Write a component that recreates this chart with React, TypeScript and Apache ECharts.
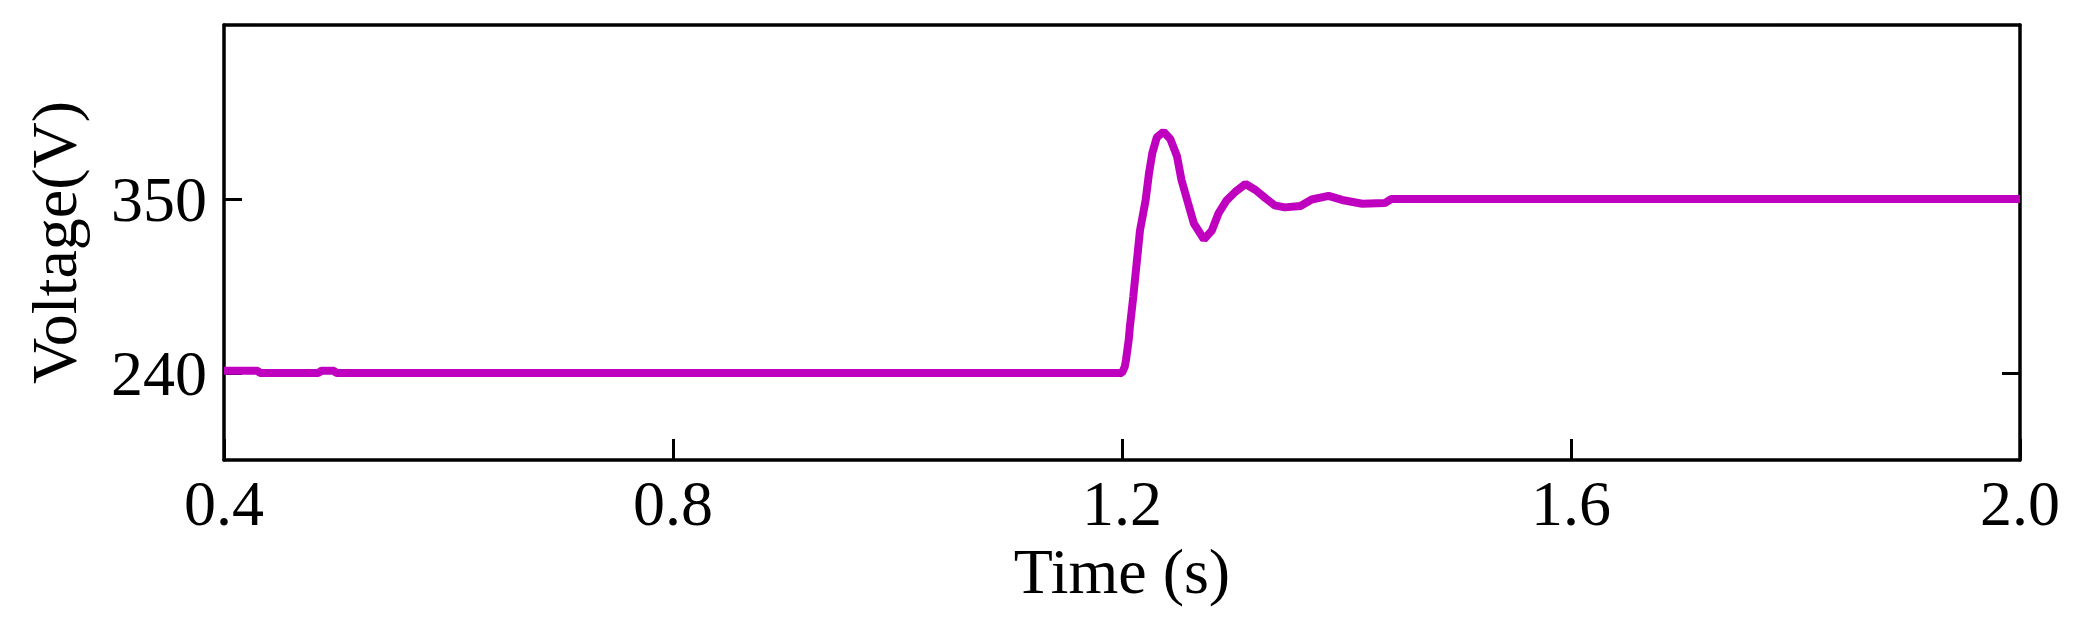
import React, { useEffect, useRef } from "react";
import * as echarts from "echarts";

// Time (s) and voltage (V) samples
const timeS: number[] = [
  0.400, 0.430, 0.432, 0.484, 0.487, 0.498, 0.500, 1.198, 1.200, 1.2025,
  1.2035, 1.206, 1.207, 1.210, 1.213, 1.216, 1.221, 1.224, 1.227, 1.231,
  1.237, 1.243, 1.249, 1.253, 1.259, 1.264, 1.273, 1.280, 1.286, 1.293,
  1.301, 1.310, 1.319, 1.328, 1.336, 1.345, 1.359, 1.369, 1.384, 1.396,
  1.414, 1.434, 1.440, 1.600, 1.800, 2.000,
];
const voltageV: number[] = [
  241.5, 241.5, 240, 240, 241.5, 241.5, 240, 240, 240, 244,
  248, 261, 269, 288, 309, 330, 349, 366, 379, 389,
  392.5, 388, 377, 362, 347, 334.6, 324.5, 330, 341, 349,
  354.6, 359.5, 355.7, 350.4, 346, 344.7, 345.6, 349.7, 352, 349.4,
  347, 347.4, 350, 350, 350, 350,
];

const xTicks: number[] = [0.4, 0.8, 1.2, 1.6, 2.0];
const yTicks: number[] = [240, 350];

const FONT = '"Liberation Serif", "Times New Roman", serif';

export default function App() {
  const ref = useRef<HTMLDivElement>(null);
  useEffect(() => {
    if (!ref.current) return;
    const chart = echarts.init(ref.current, undefined, { renderer: "svg" });
    const data = timeS.map((t, i) => [t, voltageV[i]]);
    const axisLine = { show: true, lineStyle: { color: "#000", width: 3.5 } };
    chart.setOption({
      animation: false,
      backgroundColor: "#fff",
      grid: { left: 224, right: 64, top: 25, bottom: 166, containLabel: false },
      xAxis: [
        {
          type: "value",
          position: "bottom",
          min: 0.4,
          max: 2.0,
          interval: 0.4,
          axisLine,
          axisTick: {
            show: true,
            inside: true,
            length: 21,
            customValues: xTicks,
            lineStyle: { color: "#000", width: 3 },
          },
          axisLabel: {
            show: true,
            customValues: xTicks,
            formatter: (v: number) => v.toFixed(1),
            color: "#000",
            fontFamily: FONT,
            fontSize: 64,
            margin: 11,
          },
          splitLine: { show: false },
          name: "Time (s)",
          nameLocation: "middle",
          nameGap: 79,
          nameTextStyle: { color: "#000", fontFamily: FONT, fontSize: 64 },
        },
        {
          type: "value",
          position: "top",
          min: 0.4,
          max: 2.0,
          interval: 0.4,
          axisLine,
          axisTick: { show: false },
          axisLabel: { show: false },
          splitLine: { show: false },
        },
      ],
      yAxis: [
        {
          type: "value",
          position: "left",
          min: 185,
          max: 460,
          axisLine,
          axisTick: {
            show: true,
            inside: true,
            length: 18,
            customValues: yTicks,
            lineStyle: { color: "#000", width: 3 },
          },
          axisLabel: {
            show: true,
            customValues: yTicks,
            color: "#000",
            fontFamily: FONT,
            fontSize: 64,
            margin: 17,
          },
          splitLine: { show: false },
          name: "Voltage(V)",
          nameLocation: "middle",
          nameGap: 138,
          nameRotate: 90,
          nameTextStyle: { color: "#000", fontFamily: FONT, fontSize: 64 },
        },
        {
          type: "value",
          position: "right",
          min: 185,
          max: 460,
          axisLine,
          axisTick: {
            show: true,
            inside: true,
            length: 18,
            customValues: yTicks,
            lineStyle: { color: "#000", width: 3 },
          },
          axisLabel: { show: false },
          splitLine: { show: false },
        },
      ],
      series: [
        {
          type: "line",
          xAxisIndex: 0,
          yAxisIndex: 0,
          data,
          showSymbol: false,
          symbol: "none",
          lineStyle: { color: "#BF00BF", width: 8 },
          z: 1,
        },
      ],
    });
    return () => chart.dispose();
  }, []);
  return (
    <div
      ref={ref}
      style={{ position: "fixed", left: 0, top: 0, width: 2084, height: 626, background: "#fff" }}
    />
  );
}
